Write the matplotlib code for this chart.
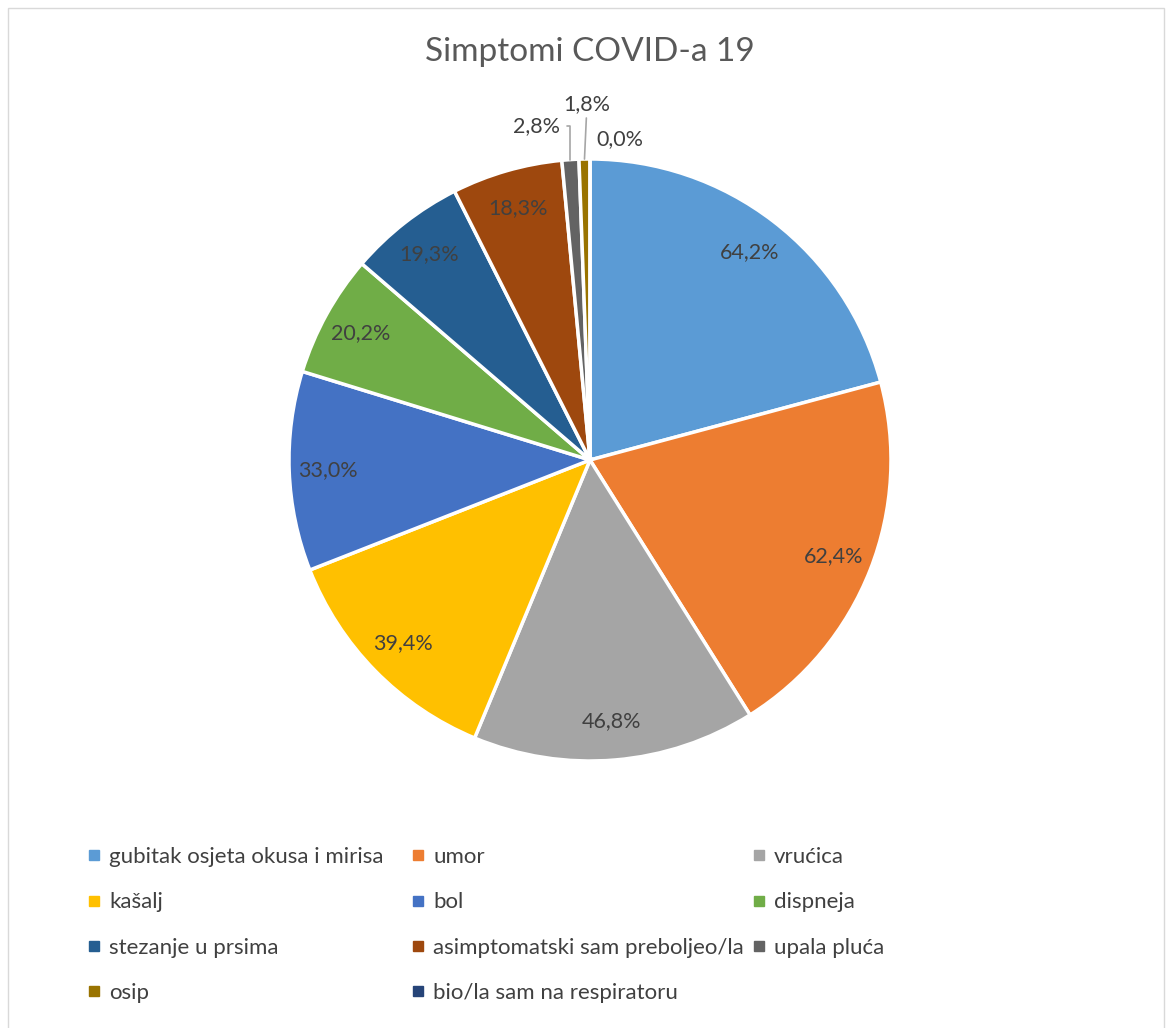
import numpy as np
import matplotlib
matplotlib.use("Agg")
from matplotlib import pyplot as plt
from matplotlib.lines import Line2D
from matplotlib.patches import Rectangle

plt.rcParams["font.family"] = ["Lato", "DejaVu Sans"]

categories = ["gubitak osjeta okusa i mirisa", "umor", "vrućica", "kašalj", "bol",
              "dispneja", "stezanje u prsima", "asimptomatski sam preboljeo/la",
              "upala pluća", "osip", "bio/la sam na respiratoru"]
values = [64.2, 62.4, 46.8, 39.4, 33.0, 20.2, 19.3, 18.3, 2.8, 1.8, 0.0]
value_labels = ["64,2%", "62,4%", "46,8%", "39,4%", "33,0%", "20,2%", "19,3%",
                "18,3%", "2,8%", "1,8%", "0,0%"]
colors = ["#5B9BD5", "#ED7D31", "#A5A5A5", "#FFC000", "#4472C4", "#70AD47",
          "#255E91", "#9E480E", "#636363", "#997300", "#264478"]

W, H = 1172, 1028
fig = plt.figure(figsize=(W / 100, H / 100), dpi=100)

# chart border
fig.patches.append(Rectangle((8 / W, -0.01), (W - 16) / W, 1 - 8 / H + 0.01,
                             transform=fig.transFigure, fill=False,
                             edgecolor="#D9D9D9", linewidth=1))

fig.text(590 / W, 1 - 52 / H, "Simptomi COVID-a 19", ha="center", va="center",
         fontsize=24, color="#595959")

cx, cy, r = 590, 460, 301
ax = fig.add_axes([(cx - r) / W, 1 - (cy + r) / H, 2 * r / W, 2 * r / H])
wedges, _ = ax.pie(values, colors=colors, startangle=90, counterclock=False,
                   wedgeprops=dict(edgecolor="white", linewidth=2.5))
ax.set_xlim(-1, 1)
ax.set_ylim(-1, 1)
ax.axis("off")

lab_fs = 15.5
total = sum(values)
start = 90.0
for i, v in enumerate(values):
    span = v / total * 360
    mid = np.deg2rad(start - span / 2)
    start -= span
    if v >= 10:
        ax.text(0.87 * np.cos(mid), 0.87 * np.sin(mid), value_labels[i],
                ha="center", va="center", fontsize=lab_fs, color="#404040")
    else:
        px, py = np.cos(mid), np.sin(mid)
        if i == 8:
            ax.annotate(value_labels[i], xy=(px, py), xytext=(-0.10, 1.11),
                        ha="right", va="center", fontsize=lab_fs, color="#404040",
                        arrowprops=dict(arrowstyle="-", color="#A6A6A6", lw=1.2,
                                        connectionstyle="angle,angleA=0,angleB=90,rad=0",
                                        shrinkA=3, shrinkB=0))
        elif i == 9:
            ax.annotate(value_labels[i], xy=(px, py), xytext=(-0.01, 1.15),
                        ha="center", va="bottom", fontsize=lab_fs, color="#404040",
                        arrowprops=dict(arrowstyle="-", color="#A6A6A6", lw=1.2,
                                        shrinkA=1, shrinkB=0))
        else:
            ax.text(0.02, 1.065, value_labels[i], ha="left", va="center",
                    fontsize=lab_fs, color="#404040")

# legend, row-major in three columns
col_x = [88, 412, 753]
rows_y = [862, 908, 953, 997]
for c in range(3):
    idx = list(range(c, len(categories), 3))
    handles = [Line2D([], [], marker="s", linestyle="none", markersize=6.5,
                      color=colors[k]) for k in idx]
    fig.legend(handles, [categories[k] for k in idx], loc="upper left",
               bbox_to_anchor=(col_x[c] / W, 1 - (rows_y[0] - 15) / H),
               frameon=False, fontsize=16, labelcolor="#404040",
               handlelength=0.5, handletextpad=0.45, labelspacing=1.14,
               borderaxespad=0, borderpad=0)

fig.savefig("out.png", dpi=100)
